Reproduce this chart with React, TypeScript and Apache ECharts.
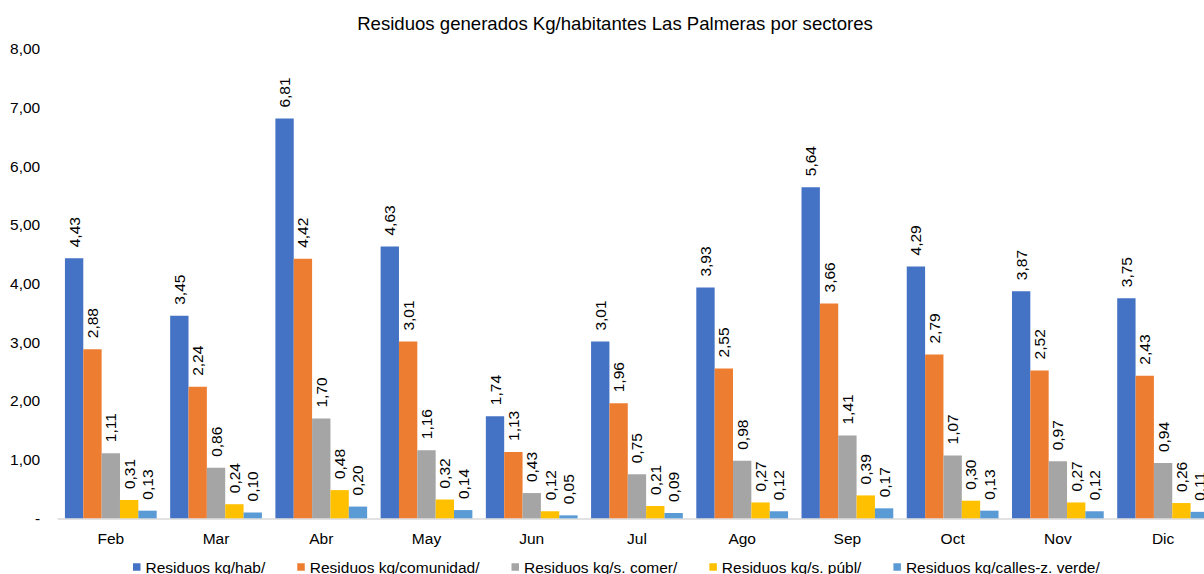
import React, { useEffect, useRef } from "react";
import * as echarts from "echarts";

const categories = ["Feb", "Mar", "Abr", "May", "Jun", "Jul", "Ago", "Sep", "Oct", "Nov", "Dic"];
const seriesNames = [
  "Residuos kg/hab/",
  "Residuos kg/comunidad/",
  "Residuos kg/s. comer/",
  "Residuos kg/s. públ/",
  "Residuos kg/calles-z. verde/",
];
const habValues = [4.43, 3.45, 6.81, 4.63, 1.74, 3.01, 3.93, 5.64, 4.29, 3.87, 3.75];
const comunidadValues = [2.88, 2.24, 4.42, 3.01, 1.13, 1.96, 2.55, 3.66, 2.79, 2.52, 2.43];
const comerValues = [1.11, 0.86, 1.7, 1.16, 0.43, 0.75, 0.98, 1.41, 1.07, 0.97, 0.94];
const publValues = [0.31, 0.24, 0.48, 0.32, 0.12, 0.21, 0.27, 0.39, 0.3, 0.27, 0.26];
const callesValues = [0.13, 0.1, 0.2, 0.14, 0.05, 0.09, 0.12, 0.17, 0.13, 0.12, 0.11];
const seriesColors = ["#4472C4", "#ED7D31", "#A5A5A5", "#FFC000", "#5B9BD5"];
const titleText = "Residuos generados Kg/habitantes Las Palmeras por sectores";

const FONT = '"Liberation Sans", Arial, sans-serif';
const fmt = (v: number) => (v === 0 ? "-" : v.toFixed(2).replace(".", ","));

export default function App() {
  const ref = useRef<HTMLDivElement>(null);
  useEffect(() => {
    if (!ref.current) return;
    const chart = echarts.init(ref.current, null, { renderer: "svg" });
    const allValues = [habValues, comunidadValues, comerValues, publValues, callesValues];
    chart.setOption({
      animation: false,
      textStyle: { fontFamily: FONT },
      title: {
        text: titleText,
        left: "center",
        top: 9,
        textStyle: { fontFamily: FONT, fontSize: 18.6, fontWeight: "normal", color: "#000000" },
      },
      legend: {
        data: seriesNames,
        left: 133,
        top: 559,
        padding: 0,
        itemWidth: 7.5,
        itemHeight: 7.5,
        itemGap: 32,
        icon: "rect",
        textStyle: { fontFamily: FONT, fontSize: 15.5, color: "#000000" },
      },
      grid: { left: 58.2, top: 48.7, width: 1157.5, height: 469.6, containLabel: false },
      xAxis: {
        type: "category",
        data: categories,
        axisLine: { show: true, lineStyle: { color: "#D9D9D9", width: 1.5 } },
        axisTick: { show: false },
        axisLabel: { margin: 12, fontFamily: FONT, fontSize: 15.5, color: "#000000" },
        splitLine: { show: false },
      },
      yAxis: {
        type: "value",
        min: 0,
        max: 8,
        interval: 1,
        axisLine: { show: false },
        axisTick: { show: false },
        splitLine: { show: false },
        axisLabel: { margin: 18, fontFamily: FONT, fontSize: 15.5, color: "#000000", formatter: fmt },
      },
      series: seriesNames.map((name, i) => ({
        name,
        type: "bar",
        data: allValues[i],
        barGap: "0%",
        barCategoryGap: "12.8%",
        itemStyle: { color: seriesColors[i] },
        label: {
          show: true,
          position: "top",
          rotate: 90,
          align: "left",
          verticalAlign: "middle",
          distance: 11,
          fontFamily: FONT,
          fontSize: 15.5,
          color: "#000000",
          formatter: (p: any) => fmt(p.value),
        },
      })),
    });
    return () => chart.dispose();
  }, []);
  return (
    <div style={{ position: "absolute", left: 0, top: 0, width: 1204, height: 574, overflow: "hidden", background: "#ffffff" }}>
      <div ref={ref} style={{ width: 1230, height: 600 }} />
    </div>
  );
}
